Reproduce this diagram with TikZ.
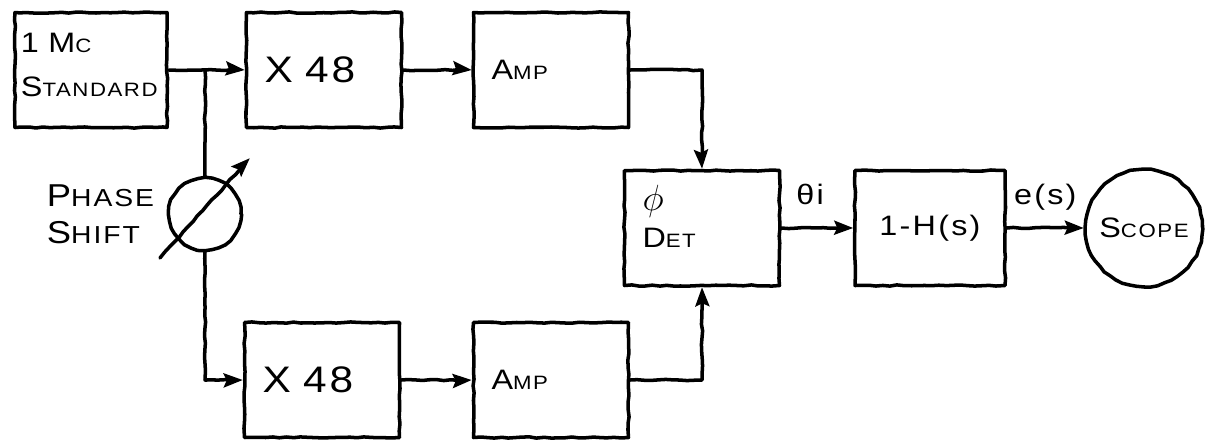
\documentclass[tikz,border=0pt]{standalone}
\usepackage{fontspec}
\newfontfamily\hand[FakeStretch=1.15,LetterSpace=8]{Liberation Sans}
\usetikzlibrary{decorations.pathmorphing,arrows.meta,calc}
\newcommand\capsc[2]{{\fontsize{16}{25}\selectfont #1}{\fontsize{11}{25}\selectfont #2}}
\newcommand\capbig[2]{{\fontsize{18}{25}\selectfont #1}{\fontsize{14}{25}\selectfont #2}}
\tikzset{
  sk/.style={decorate,decoration={random steps,segment length=4pt,
        amplitude=.35pt},line width=2pt,line cap=round,line join=round},
  skarrow/.style={sk,-{Stealth[length=3.8mm,width=2.8mm,inset=.6mm]}},
  pBox/.style={sk,draw,rectangle,minimum height=23mm,inner xsep=3.6mm,
        text width=23.8mm,align=left,font=\hand\fontsize{16}{25}\selectfont},
  pRound/.style={sk,draw,circle,inner sep=0pt,align=center,
        font=\hand\fontsize{16}{25}\selectfont},
  pLabel/.style={font=\hand\fontsize{16}{25}\selectfont,inner sep=2pt},
  pBig/.style={font=\hand\fontsize{21}{25}\selectfont},
}

\begin{document}
\begin{tikzpicture}[x=.2mm,y=-.2mm]
\useasboundingbox (0,0) rectangle (1205,446);
\node[pBox,inner xsep=1.2mm,text width=28mm,text depth=11mm] (std) at (91,70) {1 \capsc{M}{C}\\\capsc{S}{TANDARD}};
\node[pBox,pBig]  (mulA)  at (324,70)  {X 48};
\node[pBox]       (ampA)  at (551,70)  {\capsc{A}{MP}};
\node[pBox,text depth=12mm] (det) at (702,228) {{\fontsize{22}{25}\selectfont$\phi$}\\[-4pt]\capsc{D}{ET}};
\node[pBox,align=center,inner xsep=1mm,text width=28mm] (filt) at (930,228) {1-H(s)};
\node[pRound,minimum size=23.4mm] (scope) at (1144,228) {\capsc{S}{COPE}};
\node[pRound,minimum size=14.4mm] (phase) at (205,214) {};
\node[pLabel,anchor=east,align=left] (phaselbl) at (158,214) {\capbig{P}{HASE}\\[-4pt]\capbig{S}{HIFT}};
\node[pBox,pBig]  (mulB)  at (322,380) {X 48};
\node[pBox]       (ampB)  at (551,380) {\capsc{A}{MP}};
\coordinate (split) at (205,70);
\draw[skarrow] (std) -- (mulA);
\draw[skarrow] (mulA) -- (ampA);
\draw[skarrow] (ampA.east) -| (det.north);
\draw[sk] (split) -- (phase.north);
\draw[skarrow] (phase.south) |- (mulB.west);
\draw[skarrow] (mulB) -- (ampB);
\draw[skarrow] (ampB.east) -| (det.south);
\draw[skarrow] (det) -- node[pLabel,above=3.5mm,pos=.4] (theta) {θi} (filt);
\draw[skarrow] (filt) -- node[pLabel,above=2.5mm,pos=.5] (errs) {e(s)} (scope);
\draw[skarrow] ($(phase.center)+(-45,44)$) -- ($(phase.center)+(45,-56)$);
\end{tikzpicture}
\end{document}
